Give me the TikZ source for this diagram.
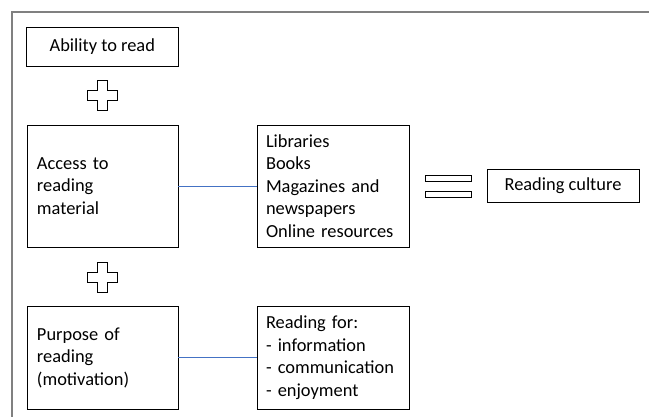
\documentclass[tikz,border=0pt]{standalone}
\usepackage{fontspec}
\setmainfont{Carlito}
\definecolor{linkblue}{HTML}{4472C4}
\definecolor{framegray}{HTML}{808080}
\begin{document}
\begin{tikzpicture}[x=1pt,y=-1pt,
  box/.style={draw=black,line width=0.9pt,inner sep=0pt,font=\fontsize{18.4}{22.5}\selectfont},
  bigbox/.style={box,minimum width=151pt,minimum height=122pt,text width=131pt,align=left},
  midbox/.style={box,minimum width=152pt,minimum height=103pt,text width=134pt,align=left},
  smallbox/.style={box,minimum width=152pt,minimum height=39pt,align=center},
  link/.style={draw=linkblue,line width=0.9pt},
  symb/.style={draw=black,line width=0.8pt,fill=white}]
\useasboundingbox (0,0) rectangle (649,417);
% frame
\draw[framegray,line width=1.5pt] (12,417) -- (12,12) -- (649,12);
% boxes
\node[smallbox] (ability) at (102.3,46.5) {Ability to read};
\node[bigbox] (access) at (102.5,186) {Access to\\reading\\material};
\node[bigbox,text width=134pt,minimum width=152pt] (res) at (333,186) {Libraries\\Books\\Magazines and\\newspapers\\Online resources};
\node[box,minimum width=152pt,minimum height=33pt] (culture) at (563,185.5) {Reading culture};
\node[midbox,minimum width=151pt,text width=131pt] (purpose) at (102.5,357.5) {Purpose of\\reading\\(motivation)};
\node[midbox] (for) at (333,357.5) {Reading for:\\- information\\- communication\\- enjoyment};
% connectors
\draw[link] (access.east) -- (res.west);
\draw[link] (purpose.east) -- (for.west);
% plus signs
\foreach \cy in {95.5,277}{
  \draw[symb] (97,\cy-15) -- (107,\cy-15) -- (107,\cy-5) -- (117,\cy-5) -- (117,\cy+5) -- (107,\cy+5) -- (107,\cy+15) -- (97,\cy+15) -- (97,\cy+5) -- (87,\cy+5) -- (87,\cy-5) -- (97,\cy-5) -- cycle;
}
% equals sign
\draw[symb] (425,175) rectangle (471,181);
\draw[symb] (425,191) rectangle (471,197);
\end{tikzpicture}
\end{document}
